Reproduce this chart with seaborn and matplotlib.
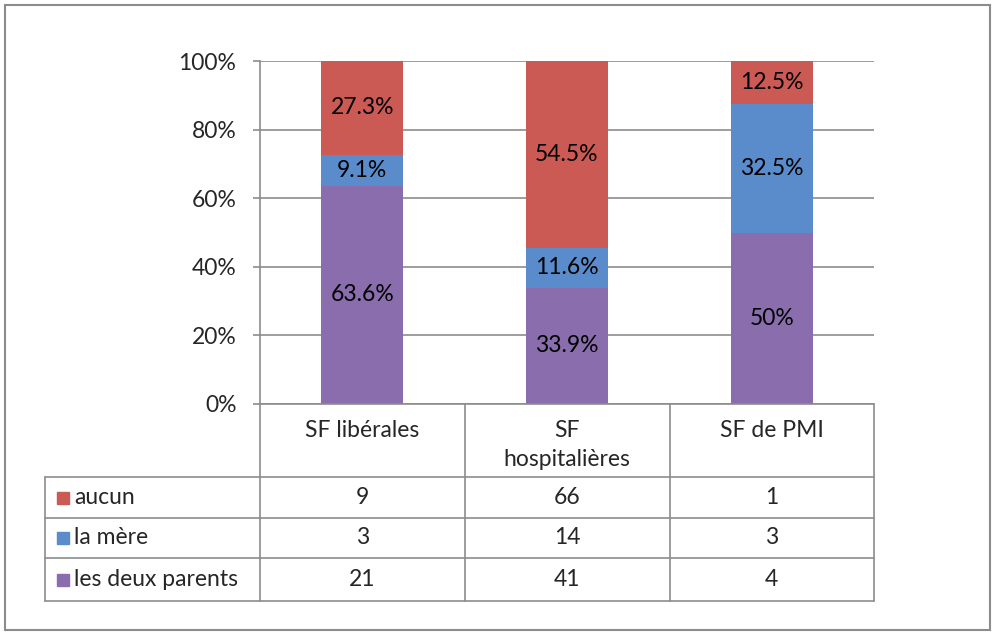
import numpy as np
import pandas as pd
import seaborn as sns
import matplotlib.pyplot as plt
from matplotlib.patches import Rectangle

# data
categories = ["SF libérales", "SF\nhospitalières", "SF de PMI"]
series = ["aucun", "la mère", "les deux parents"]
aucun = [9, 66, 1]
la_mere = [3, 14, 3]
deux_parents = [21, 41, 4]
# data labels as printed on the bars
labels_aucun = ["27.3%", "54.5%", "12.5%"]
labels_mere = ["9.1%", "11.6%", "32.5%"]
labels_deux = ["63.6%", "33.9%", "50%"]
yticks = [0, 0.2, 0.4, 0.6, 0.8, 1.0]

colors = {"aucun": "#CB5A55", "la mère": "#5A8BCB", "les deux parents": "#8A6DAC"}
grid_col = "#8c8c8c"
fs = 16.5

sns.set_style("white")
plt.rcParams["font.family"] = ["Lato", "DejaVu Sans"]

counts = np.array([aucun, la_mere, deux_parents], dtype=float)
totals = counts.sum(axis=0)
share = counts / totals
# stacked from bottom: deux parents, la mère, aucun
top_deux = share[2]
top_mere = top_deux + share[1]
top_aucun = top_mere + share[0]

df = pd.DataFrame({
    "cat": categories,
    "top_aucun": top_aucun,
    "top_mere": top_mere,
    "top_deux": top_deux,
})

W, H = 995, 635
fig = plt.figure(figsize=(W / 100, H / 100), dpi=100)
ax_l, ax_r, ax_t, ax_b = 260, 874, 61, 404
ax = fig.add_axes([ax_l / W, 1 - ax_b / H, (ax_r - ax_l) / W, (ax_b - ax_t) / H])

for col, name in [("top_aucun", "aucun"), ("top_mere", "la mère"), ("top_deux", "les deux parents")]:
    sns.barplot(data=df, x="cat", y=col, order=categories, color=colors[name],
                saturation=1, width=0.4, linewidth=0, ax=ax)

# segment labels
for i in range(3):
    segs = [(0, top_deux[i], labels_deux[i]),
            (top_deux[i], top_mere[i], labels_mere[i]),
            (top_mere[i], top_aucun[i], labels_aucun[i])]
    for lo, hi, txt in segs:
        ax.text(i, (lo + hi) / 2, txt, ha="center", va="center", fontsize=fs, color="black")

ax.set_xlim(-0.5, 2.5)
ax.set_ylim(0, 1)
ax.set_yticks(yticks)
ax.set_yticklabels([f"{int(round(v * 100))}%" for v in yticks])
ax.set_xticks([])
ax.set_xlabel("")
ax.set_ylabel("")
ax.yaxis.grid(True, color=grid_col, lw=1.2)
ax.set_axisbelow(True)
for s in ["top", "right", "bottom"]:
    ax.spines[s].set_visible(False)
ax.spines["left"].set_color(grid_col)
ax.spines["left"].set_linewidth(1.2)
ax.tick_params(axis="y", direction="out", length=5, width=1.2, color=grid_col,
               labelsize=fs, pad=12, left=True)

# data table under the plot, in axes coords
ah = ax_b - ax_t
aw = ax_r - ax_l
def ya(py):
    return (ax_b - py) / ah
def xa(px):
    return (px - ax_l) / aw

row_y = [404, 477, 518, 558, 601]
col_x = [260, 465, 670, 874]
left_x = 45
lk = dict(color=grid_col, lw=1.2, clip_on=False, transform=ax.transAxes)

ax.plot([0, 1], [ya(404), ya(404)], **lk)
for py in row_y[1:]:
    ax.plot([xa(left_x), 1], [ya(py), ya(py)], **lk)
for px in col_x:
    ax.plot([xa(px), xa(px)], [ya(404), ya(601)], **lk)
ax.plot([xa(left_x), xa(left_x)], [ya(477), ya(601)], **lk)

# header
for i, cat in enumerate(categories):
    ax.text(i, ya(420), cat, ha="center", va="top", fontsize=fs,
            transform=ax.get_xaxis_transform(), clip_on=False, linespacing=1.45)

# rows
rows = [("aucun", aucun), ("la mère", la_mere), ("les deux parents", deux_parents)]
for r, (name, vals) in enumerate(rows):
    yc = ya((row_y[r + 1] + row_y[r + 2]) / 2)
    ax.add_patch(Rectangle((xa(57), yc - 6 / ah), 12 / aw, 12 / ah, color=colors[name],
                           transform=ax.transAxes, clip_on=False))
    ax.text(xa(74), yc, name, ha="left", va="center", fontsize=fs,
            transform=ax.transAxes, clip_on=False)
    for i, v in enumerate(vals):
        ax.text(i, yc, str(v), ha="center", va="center", fontsize=fs,
                transform=ax.get_xaxis_transform(), clip_on=False)

# chart frame
fig.patches.append(Rectangle((5 / W, 5 / H), 985 / W, 625 / H, fill=False,
                             edgecolor=grid_col, lw=1.5, transform=fig.transFigure))

fig.savefig("out.png", dpi=100)
